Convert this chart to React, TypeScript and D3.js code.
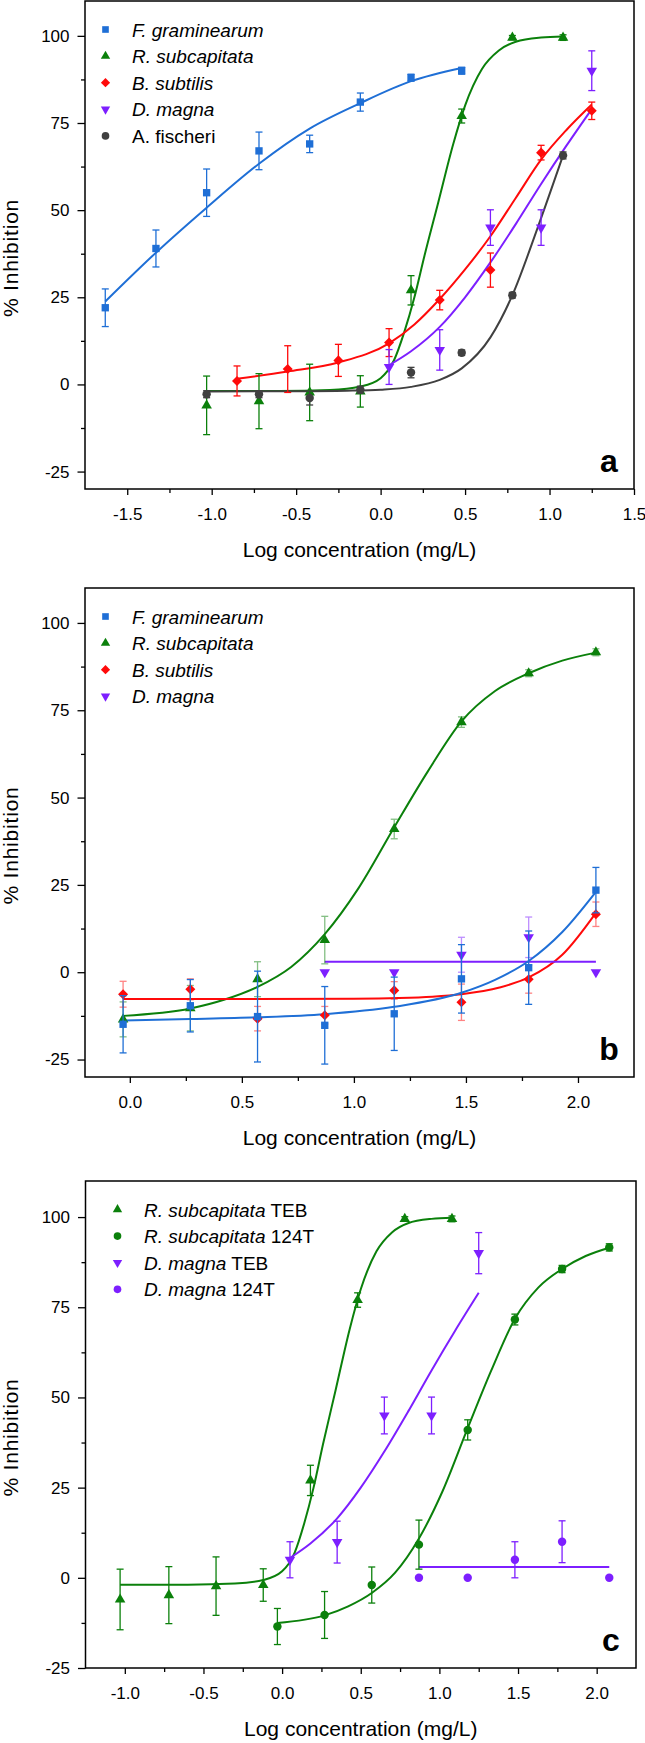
import { useEffect, useRef } from 'react';
import * as d3 from 'd3';

const FONT = '"Liberation Sans", Arial, Helvetica, sans-serif';

const BLUE = '#1f6fd6';
const GREEN = '#0b800b';
const RED = '#ff0a0a';
const PURPLE = '#7d1fff';
const GREY = '#404040';

// ---- panel a : TEB ----
const fgX = [-1.63, -1.33, -1.03, -0.72, -0.42, -0.12, 0.18, 0.48];
const fgY = [22, 39, 55, 67, 69, 81, 88, 90];
const fgErr = [5.4, 5.3, 6.8, 5.4, 2.5, 2.6, 1, 1];
const fgFitX = [-1.63, -1.33, -1.03, -0.72, -0.42, -0.12, 0.18, 0.48];
const fgFitY = [23.8, 37.8, 50.7, 63.3, 73.4, 80.7, 87, 90.8];

const rsTebX = [-1.03, -0.72, -0.42, -0.12, 0.18, 0.48, 0.78, 1.08];
const rsTebY = [-6, -4.8, -2.3, -2, 27, 77, 99.5, 99.5];
const rsTebErr = [8.4, 7.9, 8.1, 4.5, 4.2, 2, 0.6, 0.8];
const rsTebFitX = [-1.03, -0.6, -0.3, -0.12, 0, 0.08, 0.14, 0.2, 0.26, 0.34, 0.43, 0.5, 0.6, 0.7, 0.8, 0.95, 1.08];
const rsTebFitY = [-1.9, -1.9, -1.6, -0.6, 1.8, 7, 15, 25, 37, 52, 69, 80, 90.5, 95.8, 98.3, 99.5, 99.8];

const bsX = [-0.85, -0.55, -0.25, 0.05, 0.35, 0.65, 0.95, 1.25];
const bsY = [1, 4.4, 6.9, 12, 24.2, 32.8, 66.5, 78.5];
const bsErr = [4.3, 6.7, 4.6, 4, 2.8, 4.9, 2.1, 2.5];
const bsFitX = [-0.85, -0.55, -0.25, 0.05, 0.2, 0.35, 0.5, 0.65, 0.8, 0.95, 1.1, 1.25];
const bsFitY = [1.6, 3.7, 6.3, 11.8, 17.2, 24.5, 33, 42.5, 53.5, 64.5, 73, 80.3];

const dmTebX = [0.05, 0.35, 0.65, 0.95, 1.25];
const dmTebY = [5, 9.9, 45, 45, 90];
const dmTebErr = [5, 5.8, 5.1, 5.1, 5.7];
const dmTebFitX = [0.05, 0.18, 0.35, 0.5, 0.65, 0.8, 0.95, 1.1, 1.25];
const dmTebFitY = [5.5, 9.5, 16.5, 25, 35, 46, 57.5, 68.5, 79];

const afX = [-1.03, -0.72, -0.42, -0.12, 0.18, 0.48, 0.78, 1.08];
const afY = [-2.8, -2.8, -3.9, -1.5, 3.4, 9.1, 25.6, 65.7];
const afErr = [1, 1, 2, 1, 1.5, 0.8, 0.8, 1];
const afFitX = [-1.03, -0.5, -0.2, 0, 0.18, 0.35, 0.48, 0.65, 0.78, 0.93, 1.08];
const afFitY = [-2, -1.95, -1.8, -1.5, -0.7, 1.3, 4.6, 13.5, 25.6, 45, 65.7];

// ---- panel b : 1,2,4-triazole ----
const t124X = [-0.03, 0.27, 0.57, 0.87, 1.18, 1.48, 1.78, 2.08];
const fg124Y = [-14.9, -9.6, -12.7, -15.2, -11.9, -1.9, 1.3, 23.5];
const fg124Err = [8.2, 7.5, 13, 11.1, 10.5, 9.8, 10.5, 6.5];
const fg124FitX = [-0.03, 0.27, 0.57, 0.87, 1.18, 1.48, 1.63, 1.78, 1.93, 2.08];
const fg124FitY = [-13.8, -13.4, -12.9, -12, -9.9, -5.9, -2.2, 3.2, 11.5, 23];

const rs124Y = [-13.5, -10.3, -2, 9.2, 41, 71.6, 85.6, 91.6];
const rs124Err = [5, 6.5, 5, 6.8, 2.8, 1.5, 1, 1];
const rs124FitX = [-0.03, 0.27, 0.42, 0.57, 0.72, 0.87, 1.02, 1.18, 1.33, 1.48, 1.63, 1.78, 1.93, 2.08];
const rs124FitY = [-12.5, -10.4, -7.9, -4.2, 1.5, 10.9, 24, 41.5, 57.5, 71.8, 80.5, 85.6, 89.2, 91.5];

const bs124Y = [-6.3, -4.9, -13.3, -12.3, -5.2, -8.6, -2, 16.6];
const bs124Err = [3.7, 3, 3.5, 2.5, 2.5, 5.2, 4, 3.5];
const bs124FitX = [-0.03, 0.5, 1.0, 1.2, 1.35, 1.48, 1.65, 1.78, 1.93, 2.08];
const bs124FitY = [-7.7, -7.7, -7.6, -7.4, -7, -6.3, -4.4, -1.5, 5, 17];

const dm124X = [0.87, 1.18, 1.48, 1.78, 2.08];
const dm124Y = [0, 0, 5, 10, 0];
const dm124Err = [0, 0, 5, 5.8, 0];
const dm124FitX = [0.87, 2.08];
const dm124FitY = [3, 3];

// ---- axes ----
const yMajor = [-25, 0, 25, 50, 75, 100];
const yMinor = [-12.5, 12.5, 37.5, 62.5, 87.5];
const xMajorA = [-1.5, -1.0, -0.5, 0.0, 0.5, 1.0, 1.5];
const xMinorA = [-1.25, -0.75, -0.25, 0.25, 0.75, 1.25];
const xMajorB = [0.0, 0.5, 1.0, 1.5, 2.0];
const xMinorB = [0.25, 0.75, 1.25, 1.75];
const xMajorC = [-1.0, -0.5, 0.0, 0.5, 1.0, 1.5, 2.0];
const xMinorC = [-0.75, -0.25, 0.25, 0.75, 1.25, 1.75];

const zip = (a: number[], b: number[]) => a.map((v, i) => [v, b[i]] as [number, number]);

const symbols: Record<string, any> = {
  square: d3.symbolSquare,
  triangle: d3.symbolTriangle,
  down: d3.symbolTriangle,
  diamond: d3.symbolDiamond2,
  circle: d3.symbolCircle,
};
const markSize: Record<string, number> = { square: 54, triangle: 48, down: 48, diamond: 64, circle: 56 };
const legSize: Record<string, number> = { square: 44, triangle: 38, down: 38, diamond: 54, circle: 46 };

const mk = (x, y, err, fitX, fitY, color, shape, errOpacity = 1) =>
  ({ x, y, err, fitX, fitY, color, shape, errOpacity });

const panels = [
  {
    letter: 'a', top: 1, bottom: 489, left: 85, right: 634,
    xDomain: [-1.75, 1.5], yDomain: [-30, 110], xMajor: xMajorA, xMinor: xMinorA,
    legendX: 105.5,
    series: [
      mk(fgX, fgY, fgErr, fgFitX, fgFitY, BLUE, 'square'),
      mk(rsTebX, rsTebY, rsTebErr, rsTebFitX, rsTebFitY, GREEN, 'triangle'),
      mk(bsX, bsY, bsErr, bsFitX, bsFitY, RED, 'diamond'),
      mk(dmTebX, dmTebY, dmTebErr, dmTebFitX, dmTebFitY, PURPLE, 'down'),
      mk(afX, afY, afErr, afFitX, afFitY, GREY, 'circle'),
    ],
    legend: [
      { shape: 'square', color: BLUE, it: 'F. graminearum', rest: '' },
      { shape: 'triangle', color: GREEN, it: 'R. subcapitata', rest: '' },
      { shape: 'diamond', color: RED, it: 'B. subtilis', rest: '' },
      { shape: 'down', color: PURPLE, it: 'D. magna', rest: '' },
      { shape: 'circle', color: GREY, it: '', rest: 'A. fischeri' },
    ],
  },
  {
    letter: 'b', top: 588, bottom: 1077, left: 85, right: 634,
    xDomain: [-0.2, 2.25], yDomain: [-30, 110], xMajor: xMajorB, xMinor: xMinorB,
    legendX: 105.5,
    series: [
      mk(t124X, rs124Y, rs124Err, rs124FitX, rs124FitY, GREEN, 'triangle', 0.5),
      mk(t124X, bs124Y, bs124Err, bs124FitX, bs124FitY, RED, 'diamond', 0.5),
      mk(dm124X, dm124Y, dm124Err, dm124FitX, dm124FitY, PURPLE, 'down', 0.5),
      mk(t124X, fg124Y, fg124Err, fg124FitX, fg124FitY, BLUE, 'square'),
    ],
    legend: [
      { shape: 'square', color: BLUE, it: 'F. graminearum', rest: '' },
      { shape: 'triangle', color: GREEN, it: 'R. subcapitata', rest: '' },
      { shape: 'diamond', color: RED, it: 'B. subtilis', rest: '' },
      { shape: 'down', color: PURPLE, it: 'D. magna', rest: '' },
    ],
  },
  {
    letter: 'c', top: 1181, bottom: 1668, left: 85.5, right: 636,
    xDomain: [-1.25, 2.25], yDomain: [-25, 110], xMajor: xMajorC, xMinor: xMinorC,
    legendX: 117.5,
    series: [
      mk(rsTebX, rsTebY, rsTebErr, rsTebFitX, rsTebFitY, GREEN, 'triangle'),
      mk(t124X, rs124Y, rs124Err, rs124FitX, rs124FitY, GREEN, 'circle'),
      mk(dmTebX, dmTebY, dmTebErr, dmTebFitX, dmTebFitY, PURPLE, 'down'),
      mk(dm124X, dm124Y, dm124Err, dm124FitX, dm124FitY, PURPLE, 'circle'),
    ],
    legend: [
      { shape: 'triangle', color: GREEN, it: 'R. subcapitata', rest: ' TEB' },
      { shape: 'circle', color: GREEN, it: 'R. subcapitata', rest: ' 124T' },
      { shape: 'down', color: PURPLE, it: 'D. magna', rest: ' TEB' },
      { shape: 'circle', color: PURPLE, it: 'D. magna', rest: ' 124T' },
    ],
  },
];

const drawPanel = (svg, p) => {
  const x = d3.scaleLinear().domain(p.xDomain).range([p.left, p.right]);
  const y = d3.scaleLinear().domain(p.yDomain).range([p.bottom, p.top]);
  const g = svg.append('g');

  // axes
  const styleAxis = (ax) => {
    ax.select('.domain').remove();
    ax.attr('font-family', FONT).attr('font-size', 17);
    ax.selectAll('line').attr('stroke-width', 1.3);
  };
  styleAxis(g.append('g').attr('transform', `translate(${p.left},0)`)
    .call(d3.axisLeft(y).tickValues(yMinor.filter(v => v > p.yDomain[0])).tickSize(4).tickFormat(() => '')));
  styleAxis(g.append('g').attr('transform', `translate(${p.left},0)`)
    .call(d3.axisLeft(y).tickValues(yMajor).tickSize(7.5).tickPadding(8).tickFormat(d => String(d))));
  styleAxis(g.append('g').attr('transform', `translate(0,${p.bottom})`)
    .call(d3.axisBottom(x).tickValues(p.xMinor).tickSize(4).tickFormat(() => '')));
  styleAxis(g.append('g').attr('transform', `translate(0,${p.bottom})`)
    .call(d3.axisBottom(x).tickValues(p.xMajor).tickSize(6).tickPadding(12.5).tickFormat(d => (+d).toFixed(1))));

  g.append('rect')
    .attr('x', p.left).attr('y', p.top)
    .attr('width', p.right - p.left).attr('height', p.bottom - p.top)
    .attr('fill', 'none').attr('stroke', '#000').attr('stroke-width', 1.5);

  // fitted curves
  const line = d3.line().x(d => x(d[0])).y(d => y(d[1])).curve(d3.curveMonotoneX);
  p.series.forEach(s => {
    g.append('path')
      .attr('d', line(zip(s.fitX, s.fitY)))
      .attr('fill', 'none').attr('stroke', s.color).attr('stroke-width', 2);
  });

  // error bars + points
  p.series.forEach(s => {
    const eb = g.append('g').attr('stroke', s.color).attr('stroke-width', 1.3).attr('opacity', s.errOpacity);
    s.x.forEach((xv, i) => {
      const e = s.err[i];
      if (!e) return;
      const cx = x(xv);
      const y0 = y(s.y[i] - e);
      const y1 = y(s.y[i] + e);
      eb.append('line').attr('x1', cx).attr('x2', cx).attr('y1', y0).attr('y2', y1);
      eb.append('line').attr('x1', cx - 3.5).attr('x2', cx + 3.5).attr('y1', y0).attr('y2', y0);
      eb.append('line').attr('x1', cx - 3.5).attr('x2', cx + 3.5).attr('y1', y1).attr('y2', y1);
    });
    const sym = d3.symbol().type(symbols[s.shape]).size(markSize[s.shape]);
    g.append('g').selectAll('path').data(zip(s.x, s.y)).join('path')
      .attr('d', sym)
      .attr('fill', s.color)
      .attr('transform', d => `translate(${x(d[0])},${y(d[1])})${s.shape === 'down' ? ' rotate(180)' : ''}`);
  });

  // legend
  p.legend.forEach((l, i) => {
    const ly = p.top + 28.5 + i * 26.6;
    const sym = d3.symbol().type(symbols[l.shape]).size(legSize[l.shape]);
    g.append('path').attr('d', sym()).attr('fill', l.color)
      .attr('transform', `translate(${p.legendX},${ly})${l.shape === 'down' ? ' rotate(180)' : ''}`);
    const t = g.append('text').attr('x', p.legendX + 26.5).attr('y', ly + 7)
      .attr('font-family', FONT).attr('font-size', 19);
    if (l.it) t.append('tspan').attr('font-style', 'italic').text(l.it);
    if (l.rest) t.append('tspan').text(l.rest);
  });

  // titles
  g.append('text')
    .attr('x', (p.left + p.right) / 2).attr('y', p.bottom + 68)
    .attr('text-anchor', 'middle').attr('font-family', FONT).attr('font-size', 21)
    .text('Log concentration (mg/L)');
  g.append('text')
    .attr('transform', `translate(18,${(p.top + p.bottom) / 2 + 13}) rotate(-90)`)
    .attr('text-anchor', 'middle').attr('font-family', FONT).attr('font-size', 21)
    .attr('letter-spacing', 0.8)
    .text('% Inhibition');
  g.append('text')
    .attr('x', p.right - 25).attr('y', p.bottom - 17.5)
    .attr('text-anchor', 'middle').attr('font-family', FONT).attr('font-size', 32).attr('font-weight', 'bold')
    .text(p.letter);
};

const App = () => {
  const svgRef = useRef(null);

  useEffect(() => {
    const svg = d3.select(svgRef.current);
    svg.selectAll('*').remove();
    panels.forEach(p => drawPanel(svg, p));
  }, []);

  return (
    <svg ref={svgRef} width={645} height={1743}
      style={{ position: 'absolute', left: 0, top: 0, background: '#fff' }} />
  );
};

export default App;
